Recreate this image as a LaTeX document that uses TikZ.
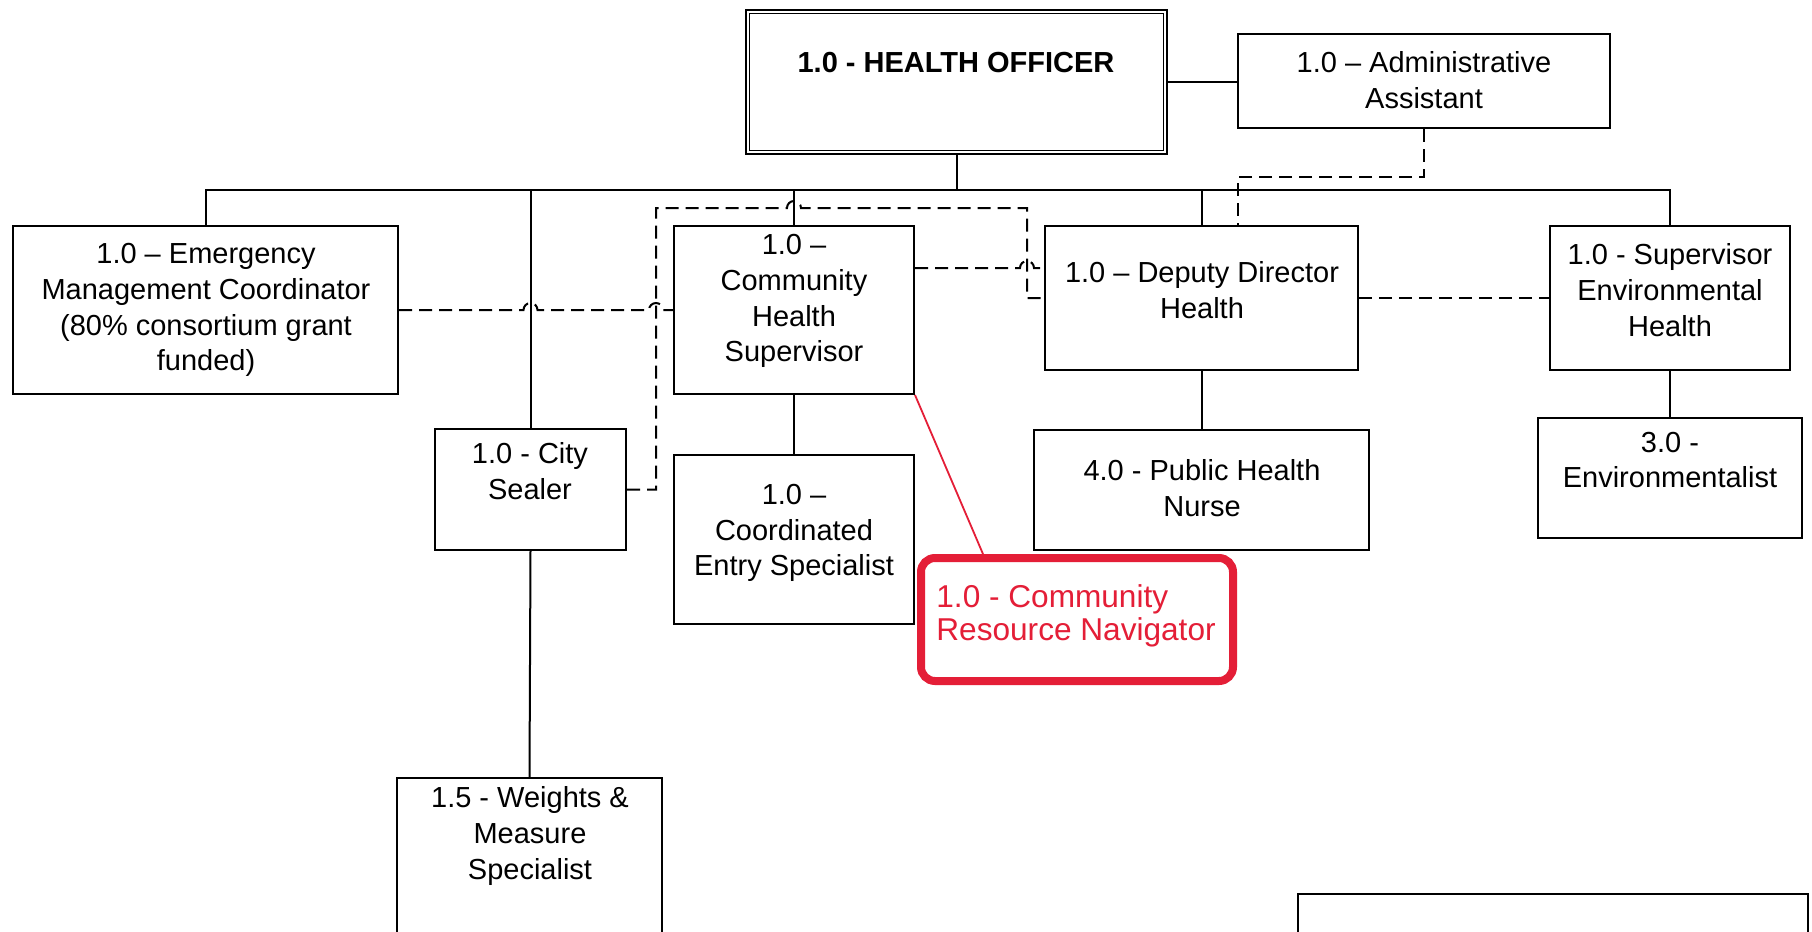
\documentclass[tikz,border=0pt]{standalone}
\usepackage{fontspec}
\setmainfont{Liberation Sans}
\usetikzlibrary{calc}
\definecolor{navred}{RGB}{228,30,55}
\begin{document}
\begin{tikzpicture}[x=0.5pt,y=-0.5pt,
  box/.style={draw=black, line width=1pt, rectangle, inner sep=0pt, fill=white},
  lbl/.style={inner sep=0pt, align=center, font=\fontsize{14.5pt}{17.9pt}\selectfont},
  con/.style={line width=1pt},
  dsh/.style={line width=1pt, dash pattern=on 6.5pt off 3.5pt},
]
\clip (0,0) rectangle (1812,932);
\fill[white] (0,0) rectangle (1812,932);

% boxes
\node[box, line width=1.3pt, minimum width=210.5pt, minimum height=72pt] (ho) at (956.5,82) {};
\draw[line width=0.7pt] ([shift={(2.5pt,-2.5pt)}]ho.north west) rectangle ([shift={(-2.5pt,2.5pt)}]ho.south east);
\node[lbl, font=\bfseries\fontsize{14.5pt}{17.9pt}\selectfont] (hoT) at (956,63) {1.0 - HEALTH OFFICER};

\node[box, minimum width=186pt, minimum height=47pt] (aa) at (1424,81) {};
\node[lbl] (aaT) at (1424,80) {1.0 – Administrative\\Assistant};

\node[box, minimum width=192.5pt, minimum height=84pt] (em) at (205.5,310) {};
\node[lbl] (emT) at (206,310) {1.0 – Emergency\\Management Coordinator\\(80\% consortium grant\\funded)};

\node[box, minimum width=95.5pt, minimum height=60.5pt] (cs) at (530.5,489.5) {};
\node[lbl] (csT) at (530,471) {1.0 - City\\Sealer};

\node[box, minimum width=120pt, minimum height=84pt] (chs) at (794,310) {};
\node[lbl] (chsT) at (794,301) {1.0 –\\Community\\Health\\Supervisor};

\node[box, minimum width=120pt, minimum height=84.5pt] (ce) at (794,539.5) {};
\node[lbl] (ceT) at (794,533) {1.0 –\\Coordinated\\Entry Specialist};

\node[box, minimum width=156.5pt, minimum height=72pt] (dd) at (1201.5,298) {};
\node[lbl] (ddT) at (1202,290) {1.0 – Deputy Director\\Health};

\node[box, minimum width=167.5pt, minimum height=60pt] (phn) at (1201.5,490) {};
\node[lbl] (phnT) at (1202,488) {4.0 - Public Health\\Nurse};

\node[box, minimum width=120pt, minimum height=72pt] (env) at (1670,298) {};
\node[lbl] (envT) at (1670,290) {1.0 - Supervisor\\Environmental\\Health};

\node[box, minimum width=132pt, minimum height=60pt] (envi) at (1670,478) {};
\node[lbl] (enviT) at (1670,460) {3.0 -\\Environmentalist};

\node[box, minimum width=132.5pt, minimum height=100pt] (wm) at (529.5,878) {};
\node[lbl] (wmT) at (530,836) {1.5 - Weights \&\\Measure\\Specialist};

\node[box, minimum width=255pt, minimum height=66pt] (br) at (1553,960) {};

\node[draw=navred, line width=4pt, rounded corners=7pt, fill=white, inner sep=0pt,
      minimum width=156pt, minimum height=61.5pt] (nav) at (1077,619.5) {};
\node[inner sep=0pt, anchor=west, align=left, text=navred,
      font=\fontsize{15.8pt}{16.8pt}\selectfont] (navT) at (936,616) {1.0 - Community\\Resource Navigator};

% solid connectors
\coordinate (bus) at (0,190);
\draw[con] (em.north) |- (env.north |- bus) -- (env.north);
\draw[con] (ho.south) -- (ho.south |- bus);
\draw[con] (cs.north) -- (cs.north |- bus);
\draw[con] (chs.north) -- (chs.north |- bus);
\draw[con] (dd.north) -- (dd.north |- bus);
\draw[con] (cs.south) -- (wm.north);
\draw[con] (chs.south) -- (ce.north);
\draw[con] (dd.south) -- (phn.north);
\draw[con] (env.south) -- (envi.north);
\draw[con] (ho.east) -- (ho.east -| aa.west);

% dashed connectors
\coordinate (a1) at (1238,177);
\draw[dsh] (aa.south) |- (a1) -- (a1 |- dd.north);

\coordinate (vx) at (656,0);
\draw[dsh] (em.east) -- ($(em.east -| cs.north)+(-3.5pt,0)$) arc[start angle=180,end angle=0,radius=3.5pt]
  -- ($(em.east -| vx)+(-3.5pt,0)$) arc[start angle=180,end angle=0,radius=3.5pt] -- (chs.west);

\coordinate (L1) at (656,208);
\coordinate (L2) at (1027,208);
\draw[dsh] (cs.east) -| (L1) -- ($(L1 -| chs.north)+(-3.5pt,0)$) arc[start angle=180,end angle=0,radius=3.5pt]
  -- (L2) |- (dd.west);

\coordinate (c1) at (914,268);
\draw[dsh] (chs.east |- c1) -- ($(c1 -| L2)+(-3.5pt,0)$) arc[start angle=180,end angle=0,radius=3.5pt] -- (c1 -| dd.west);

\draw[dsh] (dd.east) -- (env.west);

% highlight link
\draw[navred, line width=0.9pt] (chs.south east) -- ([xshift=33pt]nav.north west);
\end{tikzpicture}
\end{document}
